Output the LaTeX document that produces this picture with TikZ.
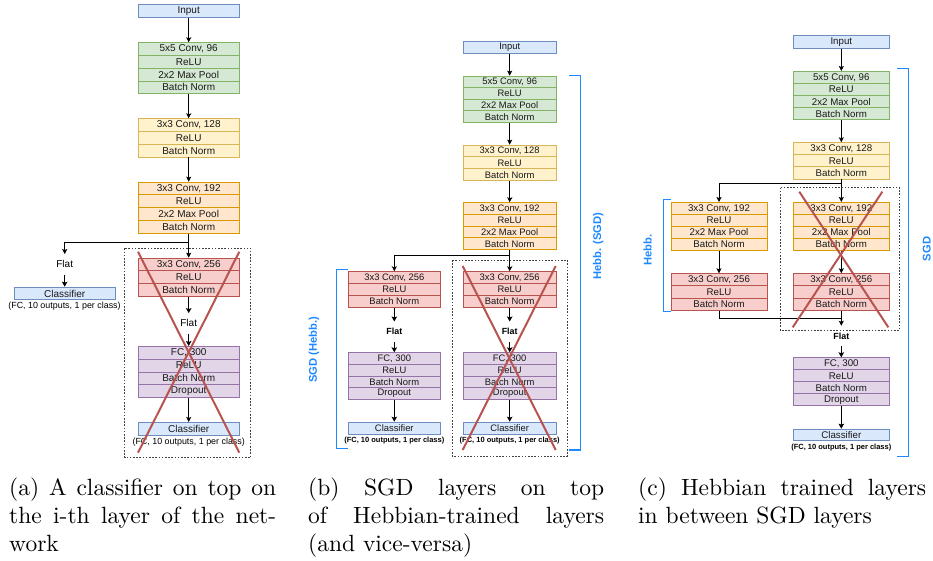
\documentclass[tikz,border=0pt]{standalone}
\usepackage{fontspec}
\newfontfamily\dfont{Liberation Sans}
\newfontfamily\capfont{lmroman10-regular}[Extension=.otf]
\usetikzlibrary{arrows.meta}
\definecolor{bluef}{HTML}{DAE8FC}\definecolor{blued}{HTML}{6C8EBF}
\definecolor{greenf}{HTML}{D5E8D4}\definecolor{greend}{HTML}{82B366}
\definecolor{yellowf}{HTML}{FFF2CC}\definecolor{yellowd}{HTML}{D6B656}
\definecolor{orangef}{HTML}{FFE6CC}\definecolor{oranged}{HTML}{D79B00}
\definecolor{redf}{HTML}{F8CECC}\definecolor{redd}{HTML}{B85450}
\definecolor{purplef}{HTML}{E1D5E7}\definecolor{purpled}{HTML}{9673A6}
\definecolor{brk}{HTML}{1E88FF}
\def\fs{9.5}
\tikzset{
  lay/.style={draw, line width=0.9pt, inner sep=0pt, text=black!90,
    font=\dfont\fontsize{\fs}{\fs}\selectfont},
  bl/.style={fill=bluef, draw=blued},
  gr/.style={fill=greenf, draw=greend},
  ye/.style={fill=yellowf, draw=yellowd},
  or/.style={fill=orangef, draw=oranged},
  rd/.style={fill=redf, draw=redd},
  pu/.style={fill=purplef, draw=purpled},
  arr/.style={-{Stealth[length=5pt,width=5pt,inset=1pt]}, line width=0.8pt},
  tarr/.style={-{Stealth[length=5pt,width=5.5pt,inset=1pt]}, line width=1.5pt},
  plain/.style={line width=0.8pt},
  flatr/.style={inner sep=0pt, minimum height=20pt, font=\dfont\fontsize{10}{10}\selectfont},
  flatb/.style={inner sep=0pt, minimum height=20pt, font=\dfont\bfseries\fontsize{8.9}{8.9}\selectfont},
  noter/.style={inner sep=0pt, font=\dfont\fontsize{8.9}{8.9}\selectfont},
  noteb/.style={inner sep=0pt, font=\dfont\bfseries\fontsize{7.5}{7.5}\selectfont},
  dbox/.style={draw=black!75, line width=0.6pt, dash pattern=on 1.6pt off 1.6pt},
  xl/.style={draw=redd, line width=2pt},
  brkl/.style={draw=brk, line width=1.2pt},
  brkt/.style={text=brk, inner sep=0pt, rotate=90, font=\dfont\bfseries\fontsize{11.2}{11.2}\selectfont},
  capn/.style={inner sep=0pt, anchor=base west, font=\capfont\fontsize{23.5}{28}\selectfont},
}
\newcommand\stack[7]{%
  \foreach \txt [count=\i] in {#7}{%
    \node[lay,#6,minimum width=#4pt,minimum height=#5pt,anchor=north] (#1-\i) at (#2,{#3+(\i-1)*#5}) {\txt};
  }%
}
\begin{document}
\begin{tikzpicture}[x=1pt,y=-1pt]
\useasboundingbox (0,0) rectangle (933,561);
% ---------------- panel (a)
\def\fs{10}
\stack{a-in}{188.7}{4.3}{101}{13}{bl}{Input}
\stack{a-g}{188.7}{42.3}{101}{12.75}{gr}{{5x5 Conv, 96},ReLU,{2x2 Max Pool},Batch Norm}
\stack{a-y}{188.7}{118.3}{101}{12.75}{ye}{{3x3 Conv, 128},ReLU,Batch Norm}
\stack{a-o}{188.7}{181.7}{101}{12.75}{or}{{3x3 Conv, 192},ReLU,{2x2 Max Pool},Batch Norm}
\stack{a-r}{188.7}{257.7}{101}{12.75}{rd}{{3x3 Conv, 256},ReLU,Batch Norm}
\stack{a-p}{188.7}{346}{101}{12.75}{pu}{{FC, 300},ReLU,Batch Norm,Dropout}
\stack{a-c}{188.7}{422}{101}{12.7}{bl}{Classifier}
\node[noter] (a-cn) at (188.7,442) {(FC, 10 outputs, 1 per class)};
\node[flatr] (a-f) at (188.7,323.3) {Flat};
\node[flatr] (a-lf) at (64.7,264.3) {Flat};
\stack{a-lc}{64.7}{286.7}{101}{12.7}{bl}{Classifier}
\node[noter] (a-lcn) at (64.5,306) {(FC, 10 outputs, 1 per class)};
\coordinate (a-br) at (188.7,242);
\draw[arr] (a-in-1) -- (a-g-1);
\draw[arr] (a-g-4) -- (a-y-1);
\draw[arr] (a-y-3) -- (a-o-1);
\draw[arr] (a-o-4) -- (a-r-1);
\draw[arr] (a-o-4.south) -- (a-br) -| (a-lf.north);
\draw[tarr] (a-lf) -- (a-lc-1);
\draw[tarr] (a-r-3) -- (a-f);
\draw[tarr] (a-f) -- (a-p-1);
\draw[arr] (a-p-4) -- (a-c-1);
\draw[dbox] (124.7,248.3) rectangle (250.7,457.7);
\draw[xl] (138,251.7) -- (239.3,452.7);
\draw[xl] (239.3,251.7) -- (138,452.7);
% ---------------- panel (b)
\def\fs{9.4}
\stack{b-in}{509.7}{41}{92.7}{11.7}{bl}{Input}
\stack{b-g}{509.7}{75.7}{92.7}{11.6}{gr}{{5x5 Conv, 96},ReLU,{2x2 Max Pool},Batch Norm}
\stack{b-y}{509.7}{144.7}{92.7}{11.8}{ye}{{3x3 Conv, 128},ReLU,Batch Norm}
\stack{b-o}{509.7}{202.3}{92.7}{11.7}{or}{{3x3 Conv, 192},ReLU,{2x2 Max Pool},Batch Norm}
\stack{b-r}{509.7}{271.3}{92.7}{11.8}{rd}{{3x3 Conv, 256},ReLU,Batch Norm}
\stack{b-p}{509.7}{352.3}{92.7}{11.7}{pu}{{FC, 300},ReLU,Batch Norm,Dropout}
\stack{b-c}{509.7}{421.7}{92.7}{12}{bl}{Classifier}
\node[flatb] (b-f) at (509.7,331.7) {Flat};
\node[noteb] (b-cn) at (509.7,440.7) {(FC, 10 outputs, 1 per class)};
\stack{b-lr}{394.3}{271.3}{92.7}{11.8}{rd}{{3x3 Conv, 256},ReLU,Batch Norm}
\stack{b-lp}{394.3}{352.3}{92.7}{11.7}{pu}{{FC, 300},ReLU,Batch Norm,Dropout}
\stack{b-lc}{394.3}{421.7}{92.7}{12}{bl}{Classifier}
\node[flatb] (b-lf) at (394.3,331.7) {Flat};
\node[noteb] (b-lcn) at (394.3,440.7) {(FC, 10 outputs, 1 per class)};
\coordinate (b-br) at (509.7,255);
\draw[arr] (b-in-1) -- (b-g-1);
\draw[arr] (b-g-4) -- (b-y-1);
\draw[arr] (b-y-3) -- (b-o-1);
\draw[arr] (b-o-4) -- (b-r-1);
\draw[arr] (b-o-4.south) -- (b-br) -| (b-lr-1.north);
\draw[tarr] (b-r-3) -- (b-f);
\draw[tarr] (b-f) -- (b-p-1);
\draw[tarr] (b-p-4) -- (b-c-1);
\draw[tarr] (b-lr-3) -- (b-lf);
\draw[tarr] (b-lf) -- (b-lp-1);
\draw[tarr] (b-lp-4) -- (b-lc-1);
\draw[dbox] (452,260) rectangle (567.3,456);
\draw[xl] (462.7,266) -- (555.7,450);
\draw[xl] (555.7,266) -- (462.7,450);
\draw[brkl] (569.3,75.7) -- (580.7,75.7) -- (580.7,450) -- (569.3,450);
\node[brkt] (b-hl) at (598.3,246) {Hebb. (SGD)};
\draw[brkl] (348,269.3) -- (336.7,269.3) -- (336.7,448.3) -- (348,448.3);
\node[brkt] (b-sl) at (314,350) {SGD (Hebb.)};
% ---------------- panel (c)
\def\fs{9.7}
\stack{c-in}{841.3}{35.3}{96}{12.4}{bl}{Input}
\stack{c-g}{841.3}{71}{96}{12.07}{gr}{{5x5 Conv, 96},ReLU,{2x2 Max Pool},Batch Norm}
\stack{c-y}{841.3}{142.3}{96}{12.1}{ye}{{3x3 Conv, 128},ReLU,Batch Norm}
\stack{c-o}{841.3}{202}{96}{12}{or}{{3x3 Conv, 192},ReLU,{2x2 Max Pool},Batch Norm}
\stack{c-r}{841.3}{273.3}{96}{12.1}{rd}{{3x3 Conv, 256},ReLU,Batch Norm}
\stack{c-lo}{719}{202}{96}{12}{or}{{3x3 Conv, 192},ReLU,{2x2 Max Pool},Batch Norm}
\stack{c-lr}{719}{273.3}{96}{12.1}{rd}{{3x3 Conv, 256},ReLU,Batch Norm}
\node[flatb] (c-f) at (841.3,336) {Flat};
\stack{c-p}{841.3}{357.3}{96}{12}{pu}{{FC, 300},ReLU,Batch Norm,Dropout}
\stack{c-c}{841.3}{428.7}{96}{11.6}{bl}{Classifier}
\node[noteb] (c-cn) at (841.3,447.3) {(FC, 10 outputs, 1 per class)};
\coordinate (c-br) at (841.3,183.3);
\coordinate (c-mg) at (841.3,318.3);
\draw[arr] (c-in-1) -- (c-g-1);
\draw[arr] (c-g-4) -- (c-y-1);
\draw[arr] (c-y-3) -- (c-o-1);
\draw[arr] (c-y-3.south) -- (c-br) -| (c-lo-1.north);
\draw[arr] (c-o-4) -- (c-r-1);
\draw[arr] (c-lo-4) -- (c-lr-1);
\draw[plain] (c-lr-3.south) |- (c-mg);
\draw[arr] (c-r-3) -- (c-f);
\draw[tarr] (c-f) -- (c-p-1);
\draw[tarr] (c-p-4) -- (c-c-1);
\draw[dbox] (780.3,187.7) rectangle (899.7,330);
\draw[xl] (799.3,191.7) -- (888.3,327.3);
\draw[xl] (882.3,191.7) -- (792.7,327.3);
\draw[brkl] (671,199.3) -- (663.7,199.3) -- (663.7,311.7) -- (671,311.7);
\node[brkt] (c-hl) at (647.7,250) {Hebb.};
\draw[brkl] (897,68.3) -- (908.3,68.3) -- (908.3,456.7) -- (897,456.7);
\node[brkt] (c-sl) at (926.7,249) {SGD};
% ---------------- captions
\node[capn] (cap-a1) at (9,495) {\makebox[267pt][s]{(a) A classifier on top on}};
\node[capn] (cap-a2) at (9,523) {\makebox[267pt][s]{the i-th layer of the net-}};
\node[capn] (cap-a3) at (9,551) {work};
\node[capn] (cap-b1) at (308,495) {\makebox[296pt][s]{(b) SGD layers on top}};
\node[capn] (cap-b2) at (308,523) {\makebox[296pt][s]{of Hebbian-trained layers}};
\node[capn] (cap-b3) at (308,551) {(and vice-versa)};
\node[capn] (cap-c1) at (638,495) {\makebox[288pt][s]{(c) Hebbian trained layers}};
\node[capn] (cap-c2) at (638,523) {in between SGD layers};
\end{tikzpicture}
\end{document}
